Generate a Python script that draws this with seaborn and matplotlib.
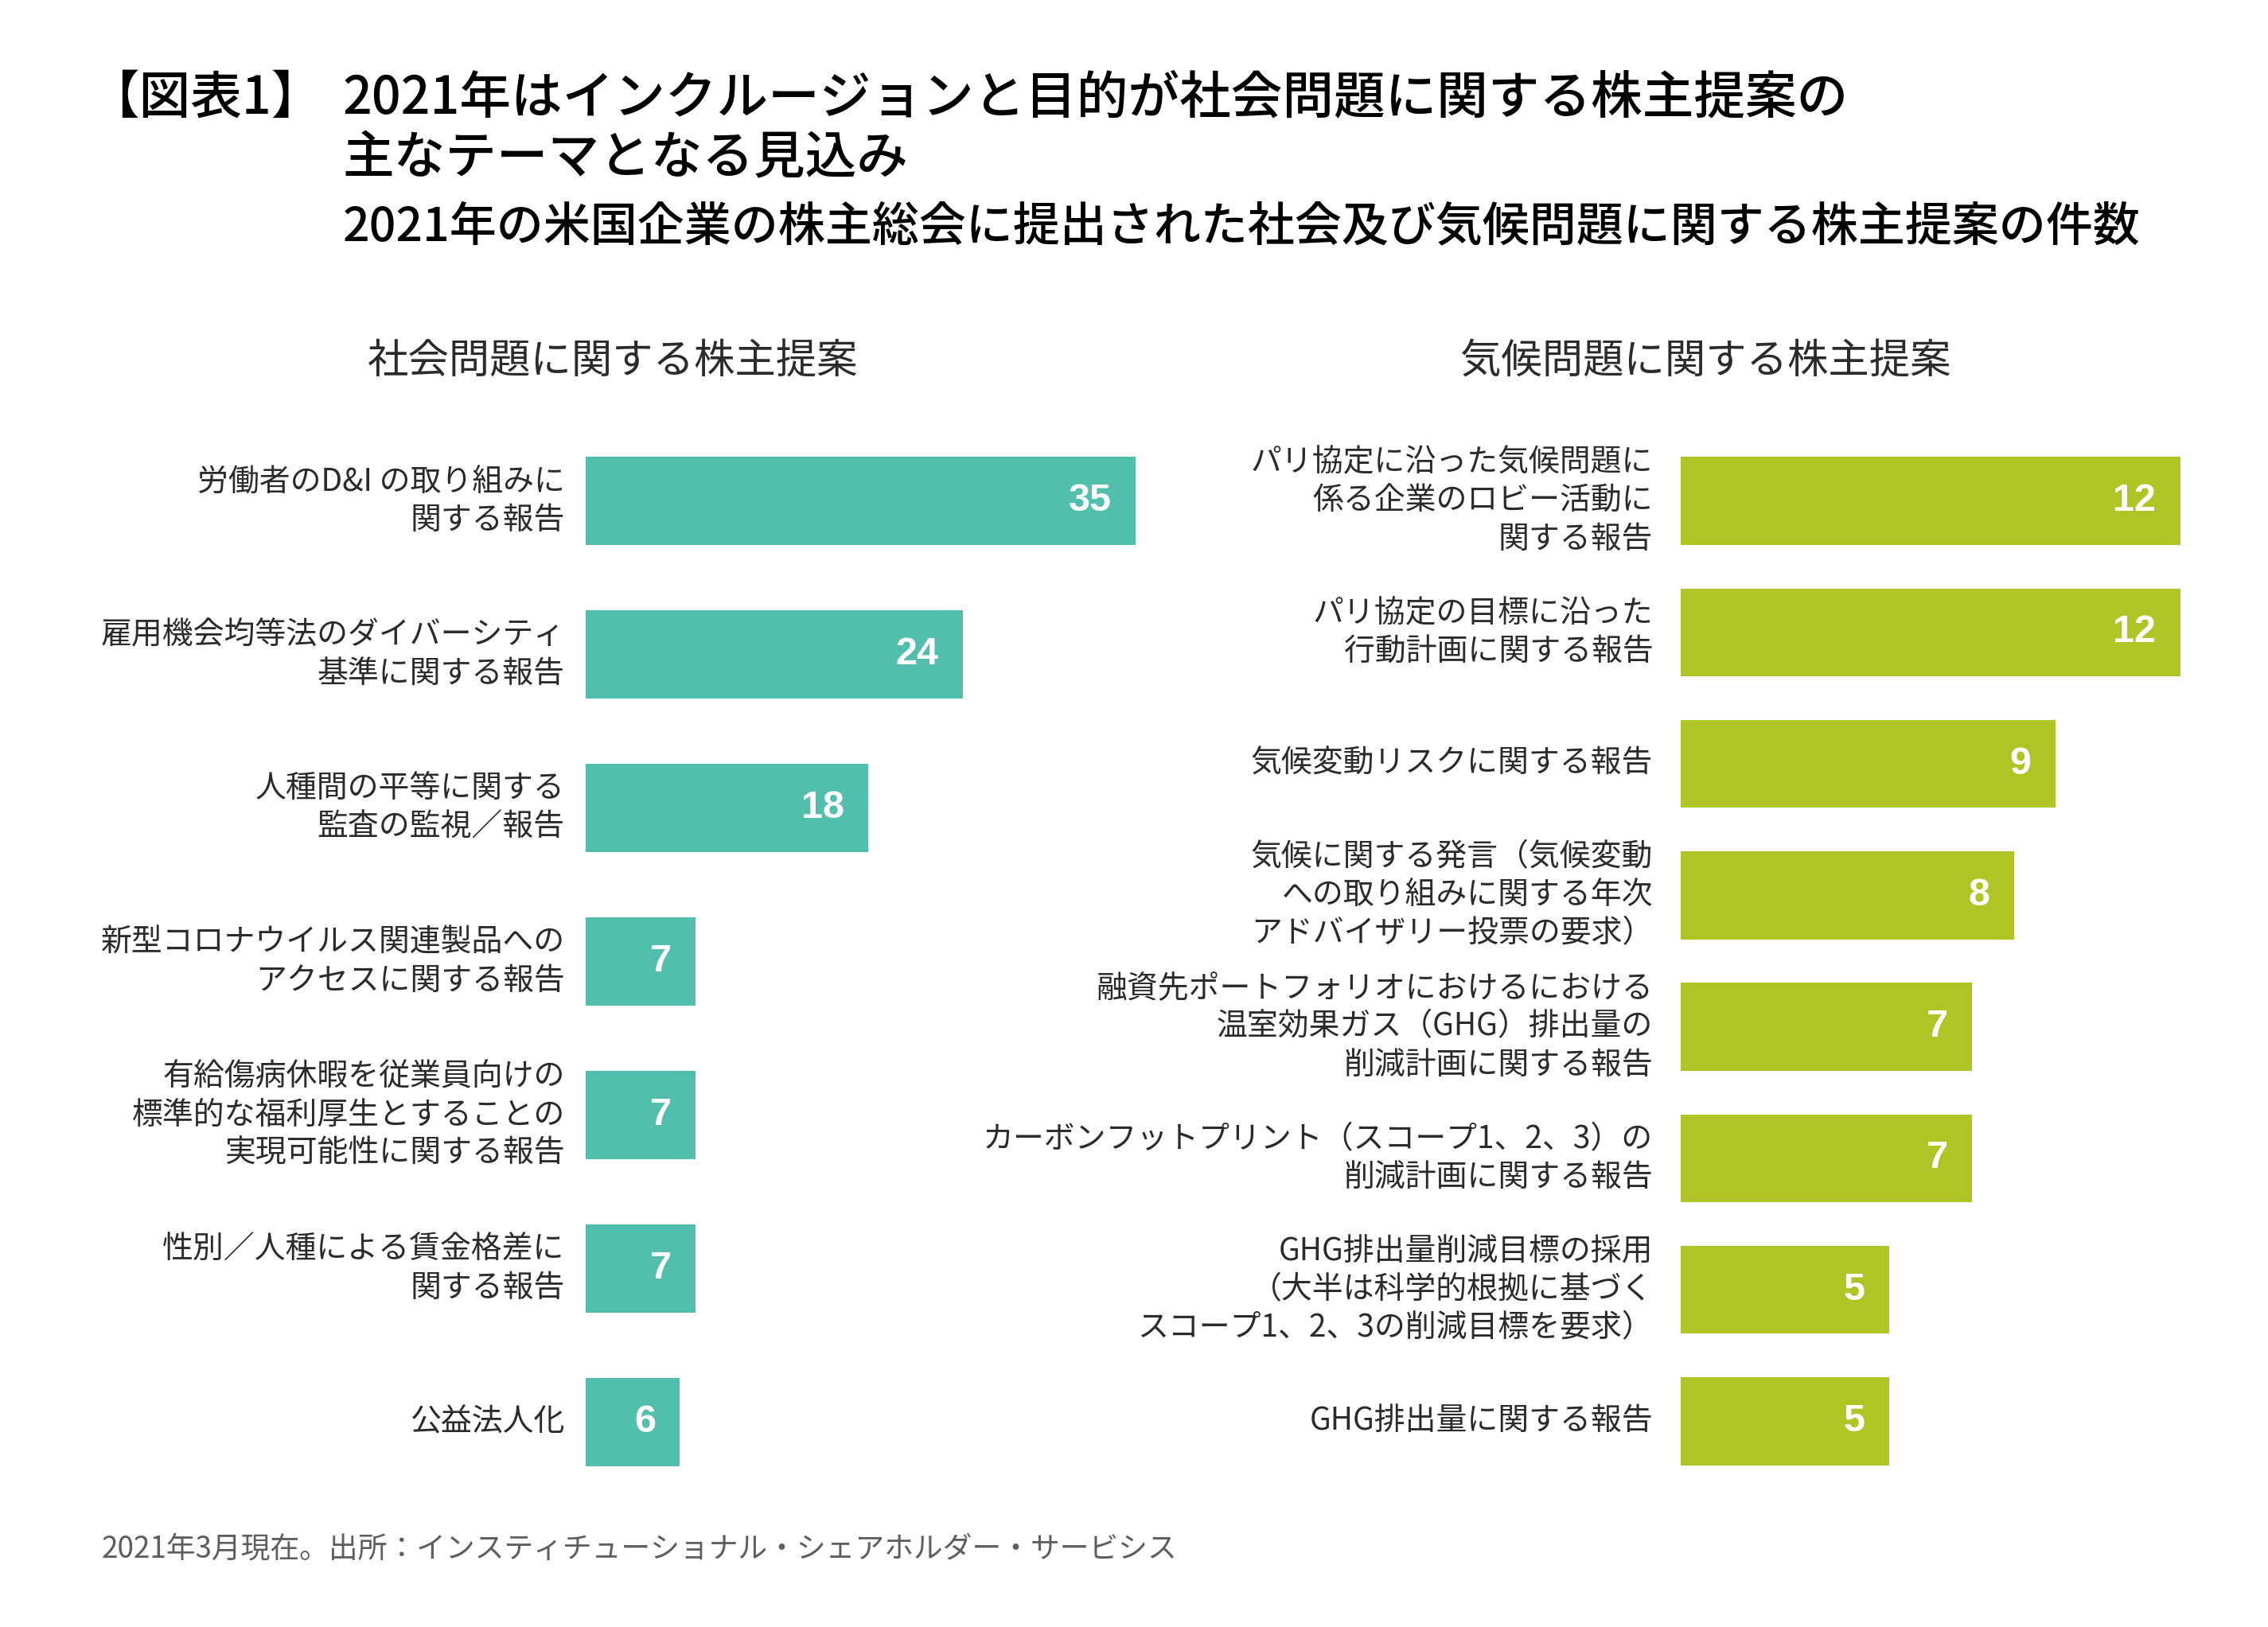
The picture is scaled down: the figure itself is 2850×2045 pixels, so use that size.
import matplotlib
matplotlib.use("Agg")
import matplotlib.pyplot as plt
import seaborn as sns

# ---------------- data ----------------
title_tag = "【図表1】"
title_line1 = "2021年はインクルージョンと目的が社会問題に関する株主提案の"
title_line2 = "主なテーマとなる見込み"
subtitle = "2021年の米国企業の株主総会に提出された社会及び気候問題に関する株主提案の件数"
left_header = "社会問題に関する株主提案"
right_header = "気候問題に関する株主提案"
footnote = "2021年3月現在。出所：インスティチューショナル・シェアホルダー・サービシス"

social_labels = [
    "労働者のD&I の取り組みに\n関する報告",
    "雇用機会均等法のダイバーシティ\n基準に関する報告",
    "人種間の平等に関する\n監査の監視／報告",
    "新型コロナウイルス関連製品への\nアクセスに関する報告",
    "有給傷病休暇を従業員向けの\n標準的な福利厚生とすることの\n実現可能性に関する報告",
    "性別／人種による賃金格差に\n関する報告",
    "公益法人化",
]
social_values = [35, 24, 18, 7, 7, 7, 6]

climate_labels = [
    "パリ協定に沿った気候問題に\n係る企業のロビー活動に\n関する報告",
    "パリ協定の目標に沿った\n行動計画に関する報告",
    "気候変動リスクに関する報告",
    "気候に関する発言（気候変動\nへの取り組みに関する年次\nアドバイザリー投票の要求）",
    "融資先ポートフォリオにおけるにおける\n温室効果ガス（GHG）排出量の\n削減計画に関する報告",
    "カーボンフットプリント（スコープ1、2、3）の\n削減計画に関する報告",
    "GHG排出量削減目標の採用\n（大半は科学的根拠に基づく\nスコープ1、2、3の削減目標を要求）",
    "GHG排出量に関する報告",
]
climate_values = [12, 12, 9, 8, 7, 7, 5, 5]

TEAL = "#51BEAE"
GREEN = "#B0C426"
TEXT = "#2B2B2B"

# ---------------- style ----------------
sns.set_theme(style="white")
plt.rcParams["font.family"] = ["Noto Sans CJK JP", "DejaVu Sans"]

W, H = 2850, 2045
fig = plt.figure(figsize=(W / 100, H / 100), dpi=100)
fig.patch.set_facecolor("white")


def fx(x):
    return x / W


def fy(y):
    return 1 - y / H


# axes placement (pixel based)
ax_l = fig.add_axes([fx(736), fy(1884), (1427 - 736) / W, 1351 / H])
ax_r = fig.add_axes([fx(2112), fy(1869), (2740 - 2112) / W, 1322 / H])


def draw(ax, labels, values, color, width, pad):
    sns.barplot(x=values, y=labels, orient="h", color=color, width=width,
                saturation=1, ax=ax, linewidth=0)
    n = len(labels)
    ax.set_ylim(n - 0.5, -0.5)
    ax.set_xlim(0, max(values))
    ax.set_xlabel("")
    ax.set_ylabel("")
    ax.set_xticks([])
    for s in ax.spines.values():
        s.set_visible(False)
    ax.tick_params(axis="y", length=0, pad=pad, labelsize=28, labelcolor=TEXT)
    for t in ax.get_yticklabels():
        t.set_linespacing(1.26)
        t.set_verticalalignment("center")
        t.set_fontfamily(["Noto Sans CJK JP", "DejaVu Sans"])
    ax.set_facecolor("none")
    for i, v in enumerate(values):
        ax.annotate(str(v), xy=(v, i), xytext=(-22, 0), textcoords="offset points",
                    ha="right", va="center", color="white", fontsize=35,
                    fontweight="bold", family=["Liberation Sans", "DejaVu Sans"])


draw(ax_l, social_labels, social_values, TEAL, 0.575, 19)
draw(ax_r, climate_labels, climate_values, GREEN, 0.67, 25)

# ---------------- titles ----------------
fig.text(fx(110), fy(124), title_tag, fontsize=46.5, color="black", va="center", ha="left",
         fontweight="medium")
fig.text(fx(431), fy(124), title_line1, fontsize=46.5, color="black", va="center", ha="left",
         fontweight="medium")
fig.text(fx(431), fy(200), title_line2, fontsize=46.5, color="black", va="center", ha="left",
         fontweight="medium")
fig.text(fx(431), fy(286), subtitle, fontsize=42.5, color="black", va="center", ha="left",
         fontweight="medium")

fig.text(fx(770), fy(454), left_header, fontsize=37, color=TEXT, va="center", ha="center")
fig.text(fx(2143), fy(454), right_header, fontsize=37, color=TEXT, va="center", ha="center")

fig.text(fx(128), fy(1947), footnote, fontsize=26.5, color="#5E5E5E", va="center", ha="left")

fig.savefig("out.png", dpi=100, facecolor="white")
